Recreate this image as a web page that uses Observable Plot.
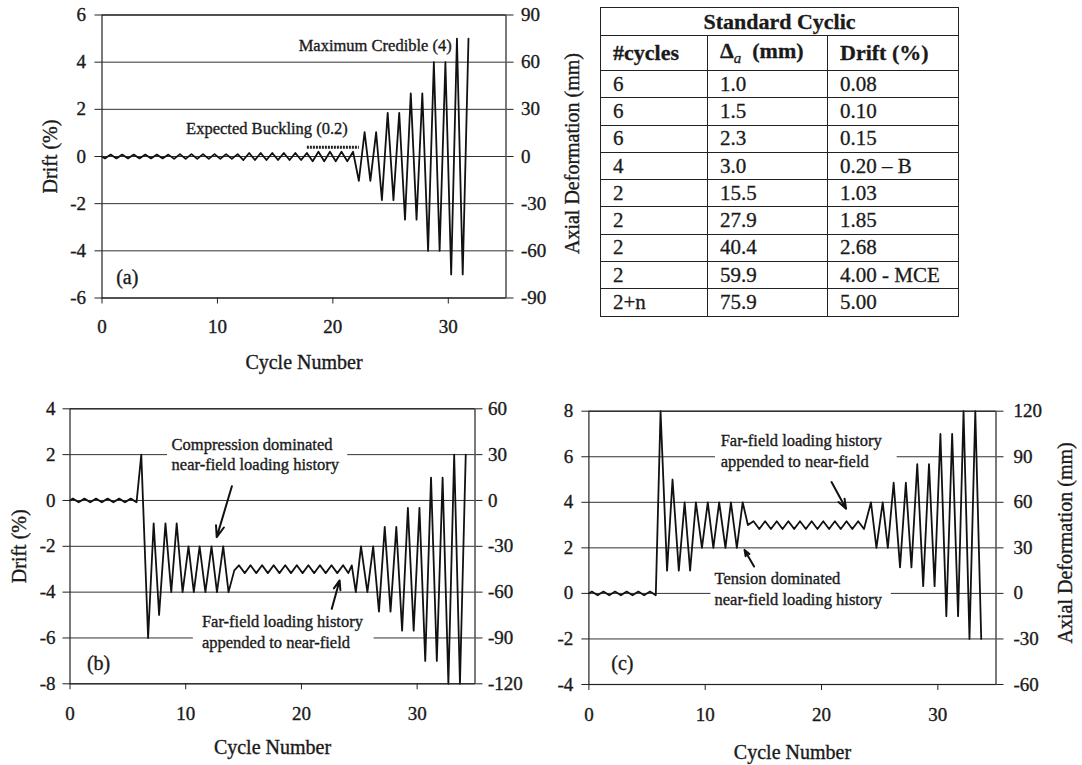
<!DOCTYPE html>
<html><head><meta charset="utf-8">
<script src="https://cdn.jsdelivr.net/npm/d3@7"></script>
<script src="https://cdn.jsdelivr.net/npm/@observablehq/plot@0.6"></script>
<style>
body{margin:0;background:#fff;}
#root{position:relative;width:1082px;height:765px;overflow:hidden;background:#fff;font-family:"Liberation Serif","Times New Roman",serif;color:#1a1a1a;}
.panel{position:absolute;}
.panel text{paint-order:stroke;stroke:#1a1a1a;stroke-width:0.35px;}
#tbl{position:absolute;left:600px;top:7px;border-collapse:collapse;font-family:"Liberation Serif",serif;color:#1a1a1a;table-layout:fixed;-webkit-text-stroke:0.3px #1a1a1a;}
#tbl td{border:1.5px solid #222;padding:0 0 0 12px;text-align:left;font-size:21px;height:26.3px;line-height:1;white-space:nowrap;}
#tbl td.title{text-align:center;font-weight:bold;font-size:22px;padding:0;height:27px;}
#tbl td.head{font-weight:bold;font-size:22px;height:34px;}
</style></head><body><div id="root"></div>
<script>
// ---------- shared axis data ----------
const xTicks = [0, 10, 20, 30];

// ---------- panel (a): standard cyclic ----------
const aDriftTicks = [-6, -4, -2, 0, 2, 4, 6];
const aMmTicks = [-90, -60, -30, 0, 30, 60, 90];
// amplitude (drift %) of each successive cycle
const aCycleDrift = [0.08,0.08,0.08,0.08,0.08,0.08, 0.10,0.10,0.10,0.10,0.10,0.10,
  0.15,0.15,0.15,0.15,0.15,0.15, 0.20,0.20,0.20,0.20, 1.03,1.03, 1.85,1.85,
  2.68,2.68, 4.00,4.00, 5.00,5.00];
const aNotes = [
  {x: 30.3, y: 4.7, t: "Maximum Credible (4)"},
  {x: 21.3, y: 1.17, t: "Expected Buckling (0.2)"}
];
const aBuckling = [{x1: 17.75, x2: 22.25, y: 0.39}];
const aLetter = [{x: 2.19, y: -5.15, t: "(a)"}];

// ---------- panel (b): compression dominated near-field ----------
const bDriftTicks = [-8, -6, -4, -2, 0, 2, 4];
const bMmTicks = [-120, -90, -60, -30, 0, 30, 60];
const bX = [0,0.25,0.75,1.25,1.75,2.25,2.75,3.25,3.75,4.25,4.75,5.25,5.75,
  6.16,6.75,7.23,7.7,8.25,8.75,9.22,9.73,10.24,10.7,11.2,11.7,12.23,12.7,13.24,13.7,
  14.2,14.6,15.1,15.6,16.1,16.6,17.1,17.6,18.1,18.6,19.1,19.6,20.1,20.6,21.1,21.6,22.1,22.6,23.1,23.6,24.05,24.35,
  24.7,25.15,25.7,26.2,26.7,27.2,27.7,28.2,28.7,29.2,29.7,30.2,30.7,31.2,31.7,32.2,32.7,33.2,33.7,34.2];
const bY = [0,0.08,-0.08,0.08,-0.08,0.08,-0.08,0.08,-0.08,0.08,-0.08,0.08,-0.08,
  2,-6,-1,-5,-1,-4,-1,-4,-2,-4,-2,-4,-2,-4,-2,-4,
  -3.05,-2.83,-3.17,-2.83,-3.17,-2.83,-3.17,-2.83,-3.17,-2.83,-3.17,-2.83,-3.17,-2.83,-3.17,-2.83,-3.17,-2.83,-3.17,-2.83,-3.17,-2.83,
  -4,-2,-4,-2,-4.85,-1.15,-4.85,-1.15,-5.68,-0.32,-5.68,-0.32,-7,1,-7,1,-8,2,-8,2];
const bNotes = [
  {x: 8.78, y: 2.43, t: "Compression dominated"},
  {x: 8.78, y: 1.56, t: "near-field loading history"},
  {x: 11.4, y: -5.31, t: "Far-field loading history"},
  {x: 11.4, y: -6.21, t: "appended to near-field"}
];
const bBoxes = [{x1: 8.43, x2: 24.0, y1: 1.8, y2: 2.2}, {x1: 10.66, x2: 26.28, y1: -5.8, y2: -6.2}];
const bArrows = [{x1: 13.99, y1: 0.62, x2: 12.68, y2: -1.6}, {x1: 22.62, y1: -4.73, x2: 23.3, y2: -3.49}];
const bLetter = [{x: 2.47, y: -7.12, t: "(b)"}];

// ---------- panel (c): tension dominated near-field ----------
const cDriftTicks = [-4, -2, 0, 2, 4, 6, 8];
const cMmTicks = [-60, -30, 0, 30, 60, 90, 120];
const cX = [0,0.25,0.75,1.25,1.75,2.25,2.75,3.25,3.75,4.25,4.75,5.25,5.75,
  6.16,6.72,7.19,7.73,8.23,8.7,9.2,9.72,10.22,10.7,11.2,11.74,12.21,12.72,13.22,
  13.67,14.15,14.65,15.15,15.65,16.15,16.65,17.15,17.65,18.15,18.65,19.15,19.65,20.15,20.65,21.15,21.65,22.15,22.65,23.15,23.65,
  24.25,24.72,25.26,25.7,26.2,26.75,27.25,27.73,28.23,28.74,29.24,29.72,30.22,30.73,31.23,31.74,32.21,32.72,33.22,33.73];
const cY = [0,0.08,-0.08,0.08,-0.08,0.08,-0.08,0.08,-0.08,0.08,-0.08,0.08,-0.08,
  8,1,5,1,4,1,4,2,4,2,4,2,4,2,4,
  3.0,3.17,2.83,3.17,2.83,3.17,2.83,3.17,2.83,3.17,2.83,3.17,2.83,3.17,2.83,3.17,2.83,3.17,2.83,3.17,2.83,
  4,2,4,2,4.86,1.14,4.86,1.14,5.68,0.32,5.68,0.32,7,-1,7,-1,8,-2,8,-2];
const cNotes = [
  {x: 11.33, y: 6.69, t: "Far-field loading history"},
  {x: 11.33, y: 5.77, t: "appended to near-field"},
  {x: 10.8, y: 0.63, t: "Tension dominated"},
  {x: 10.8, y: -0.28, t: "near-field loading history"}
];
const cBoxes = [{x1: 10.88, x2: 26.5, y1: 5.8, y2: 6.2}, {x1: 10.5, x2: 26.0, y1: -0.2, y2: 0.2}];
const cArrows = [{x1: 20.86, y1: 4.89, x2: 22.11, y2: 3.72}, {x1: 14.2, y1: 1.18, x2: 13.38, y2: 1.91}];
const cLetter = [{x: 2.88, y: -3.09, t: "(c)"}];

// ---------- table ----------
const tableTitle = "Standard Cyclic";
const tableCycles = ["6","6","6","4","2","2","2","2","2+n"];
const tableDelta = ["1.0","1.5","2.3","3.0","15.5","27.9","40.4","59.9","75.9"];
const tableDrift = ["0.08","0.10","0.15","0.20 \u2013 B","1.03","1.85","2.68","4.00 - MCE","5.00"];

const INK = "#1a1a1a";
const FONT = "'Liberation Serif','Times New Roman',serif";

function panel(cfg) {
  const pts = cfg.xs.map((x, i) => ({x, y: cfg.ys[i]}));
  const mmByDrift = new Map(cfg.driftTicks.map((d, i) => [d, String(cfg.mmTicks[i])]));
  const marks = [
    Plot.ruleY(cfg.driftTicks, {stroke: "#333", strokeWidth: 1}),
    Plot.rect(cfg.boxes || [], {x1: "x1", x2: "x2", y1: "y1", y2: "y2", fill: "white"}),
    Plot.line(pts, {x: "x", y: "y", stroke: "#111", strokeWidth: 1.8}),
    Plot.frame({stroke: "#222", strokeWidth: 1.2}),
    Plot.axisY({anchor: "left", ticks: cfg.driftTicks, tickFormat: d => String(d), tickSize: 7, tickPadding: cfg.padL, label: null, fontSize: 19, stroke: "#222"}),
    Plot.axisY({anchor: "right", ticks: cfg.driftTicks, tickFormat: d => mmByDrift.get(d), tickSize: 7, tickPadding: cfg.padR, label: null, fontSize: 19, stroke: "#222"}),
    Plot.axisX({ticks: xTicks, tickFormat: d => String(d), tickSize: 6, tickPadding: cfg.padB, label: null, fontSize: 19, stroke: "#222"}),
    Plot.text(["Cycle Number"], {frameAnchor: "bottom", text: d => d, dy: cfg.dyX, textAnchor: "middle", lineAnchor: "middle", fontSize: 20, fill: INK}),
    Plot.text(cfg.notes, {x: "x", y: "y", text: "t", textAnchor: cfg.noteAnchor || "start", lineAnchor: "middle", fontSize: 16.5, fill: INK}),
    Plot.text(cfg.letter, {x: "x", y: "y", text: "t", lineAnchor: "middle", fontSize: 20, fill: INK})
  ];
  if (cfg.leftLabel) marks.push(Plot.text([cfg.leftLabel], {frameAnchor: "left", text: d => d, rotate: -90, dx: cfg.dxL, textAnchor: "middle", lineAnchor: "middle", fontSize: 20, fill: INK}));
  if (cfg.rightLabel) marks.push(Plot.text([cfg.rightLabel], {frameAnchor: "right", text: d => d, rotate: -90, dx: cfg.dxR, dy: cfg.dyR || 0, textAnchor: "middle", lineAnchor: "middle", fontSize: 20, fill: INK}));
  if (cfg.arrows) marks.push(Plot.arrow(cfg.arrows, {x1: "x1", y1: "y1", x2: "x2", y2: "y2", stroke: "#111", strokeWidth: 2, headLength: 9, headAngle: 40}));
  if (cfg.extra) marks.push(...cfg.extra);
  const svg = Plot.plot({
    width: cfg.width, height: cfg.height,
    marginLeft: cfg.m[0], marginRight: cfg.m[1], marginTop: cfg.m[2], marginBottom: cfg.m[3],
    x: {domain: [0, 35]},
    y: {domain: cfg.yDomain},
    style: {fontFamily: FONT, fontSize: "19px", color: INK, background: "transparent", overflow: "visible"},
    marks
  });
  svg.classList.add("panel");
  svg.style.left = cfg.left + "px";
  svg.style.top = cfg.top + "px";
  return svg;
}

const root = document.getElementById("root");

// (a)
const aXs = [0], aYs = [0];
aCycleDrift.forEach((amp, k) => { aXs.push(k + 0.25, k + 0.75); aYs.push(-amp, amp); });
root.appendChild(panel({
  left: 0, top: 0, width: 595, height: 390, m: [101.5, 89.5, 14.5, 92.5],
  yDomain: [-6, 6], driftTicks: aDriftTicks, mmTicks: aMmTicks,
  xs: aXs, ys: aYs, padL: 9, padR: 8, padB: 15, dyX: 64.5,
  leftLabel: "Drift (%)", dxL: -51, rightLabel: "Axial Deformation (mm)", dxR: 66.5, dyR: -3,
  notes: aNotes, noteAnchor: "end", letter: aLetter,
  extra: [Plot.link(aBuckling, {x1: "x1", x2: "x2", y1: "y", y2: "y", stroke: "#222", strokeWidth: 3, strokeDasharray: "2,1"})]
}));

// (b)
root.appendChild(panel({
  left: 0, top: 390, width: 540, height: 375, m: [69.5, 65.5, 18.3, 81.7],
  yDomain: [-8, 4], driftTicks: bDriftTicks, mmTicks: bMmTicks,
  xs: bX, ys: bY, padL: 7.5, padR: 6, padB: 16.5, dyX: 63.4,
  leftLabel: "Drift (%)", dxL: -50.6,
  notes: bNotes, letter: bLetter, boxes: bBoxes, arrows: bArrows
}));

// (c)
root.appendChild(panel({
  left: 540, top: 390, width: 542, height: 375, m: [48.4, 86.5, 20.7, 81],
  yDomain: [-4, 8], driftTicks: cDriftTicks, mmTicks: cMmTicks,
  xs: cX, ys: cY, padL: 8.6, padR: 10.5, padB: 17, dyX: 67.7,
  rightLabel: "Axial Deformation (mm)", dxR: 70, dyR: -5,
  notes: cNotes, letter: cLetter, boxes: cBoxes, arrows: cArrows
}));

// table
const tbl = document.createElement("table");
tbl.id = "tbl";
const colW = [107, 120, 131];
const cg = document.createElement("colgroup");
colW.forEach(w => { const c = document.createElement("col"); c.style.width = w + "px"; cg.appendChild(c); });
tbl.appendChild(cg);
const trT = tbl.insertRow(); const tdT = trT.insertCell(); tdT.colSpan = 3; tdT.className = "title"; tdT.textContent = tableTitle;
const trH = tbl.insertRow();
["#cycles", null, "Drift (%)"].forEach((h, i) => {
  const td = trH.insertCell(); td.className = "head";
  if (h === null) { td.innerHTML = "\u0394<sub style=\"font-style:italic;font-weight:normal;font-size:15px\">a</sub>&nbsp;&nbsp;(mm)"; }
  else td.textContent = h;
});
tableCycles.forEach((c, i) => {
  const tr = tbl.insertRow();
  [c, tableDelta[i], tableDrift[i]].forEach(v => { const td = tr.insertCell(); td.textContent = v; });
});
root.appendChild(tbl);
</script></body></html>
